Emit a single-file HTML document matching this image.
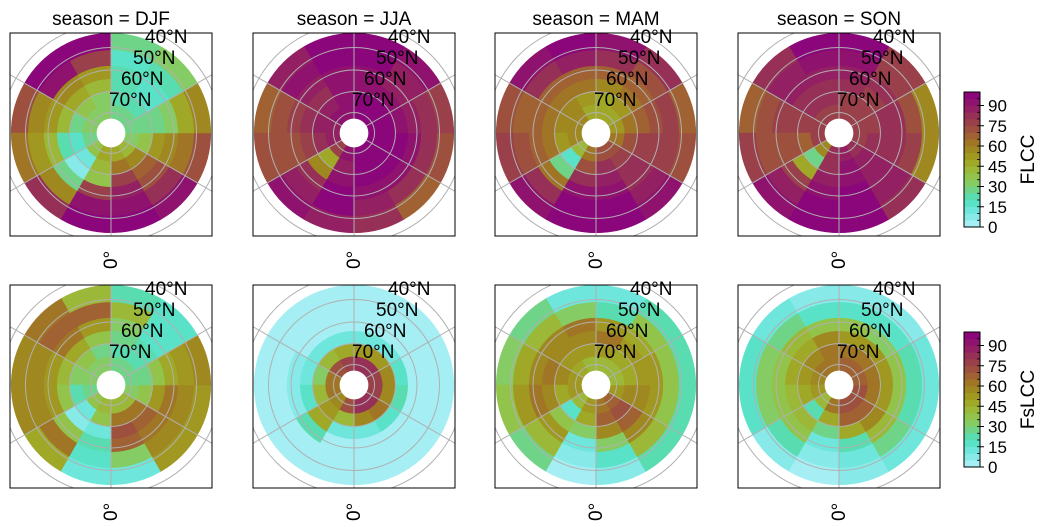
<!DOCTYPE html>
<html><head><meta charset="utf-8"><style>
html,body{margin:0;padding:0;background:#fff;}
svg{display:block;font-family:"Liberation Sans","DejaVu Sans",sans-serif;}
</style></head><body>
<svg id="fig" width="1048" height="527" viewBox="0 0 1048 527" xmlns="http://www.w3.org/2000/svg"></svg>
<script>
// ring latitude edges (inner -> outer) and sector longitudes (start, 30 deg wide)
const ringEdges = [83, 76, 70, 64, 58, 51, 44];
const sectorLons = [0,30,60,90,120,150,180,210,240,270,300,330];
const seasons = ["DJF","JJA","MAM","SON"];
const variables = ["FLCC","FsLCC"];
const cbarTicks = [0,15,30,45,60,75,90];
// values[sector][ring] inner->outer
const FLCC_DJF = [[45,60,75,85,90,95],[40,55,65,70,80,90],[30,35,50,55,60,70],[25,25,25,30,45,55],[25,20,15,15,20,30],[25,20,20,20,15,25],[30,30,40,50,75,95],[30,35,45,55,90,95],[30,25,40,50,55,70],[25,15,20,40,50,60],[35,10,5,25,55,80],[45,40,35,75,90,95]];
const FLCC_JJA = [[95,95,95,90,85,80],[95,95,95,90,80,65],[95,95,95,90,80,70],[95,95,90,85,80,75],[95,95,90,85,85,90],[95,95,90,90,95,95],[90,90,90,90,95,95],[90,85,80,85,90,85],[85,85,80,75,70,65],[85,80,75,70,70,70],[75,45,55,80,85,90],[90,85,90,95,95,85]];
const FLCC_MAM = [[70,80,85,90,95,95],[70,75,80,80,85,90],[60,70,75,75,75,70],[50,60,65,70,75,65],[45,50,60,65,70,80],[45,45,55,65,80,90],[45,50,60,65,85,95],[55,55,60,65,80,90],[55,55,60,65,65,70],[55,50,60,65,70,75],[40,15,25,60,80,90],[60,70,80,90,95,95]];
const FLCC_SON = [[85,90,90,95,95,95],[80,85,85,85,85,80],[75,80,80,80,75,55],[75,75,80,80,70,55],[75,75,75,80,75,75],[75,75,80,85,90,95],[75,80,80,85,90,95],[75,80,80,85,85,80],[75,75,75,75,70,65],[75,65,70,70,70,75],[55,25,45,75,85,90],[80,80,85,90,95,95]];
const FsLCC_DJF = [[40,60,70,65,30,10],[40,60,65,60,55,50],[30,35,50,60,55,50],[25,25,35,45,50,55],[25,20,20,15,15,15],[25,20,25,30,40,20],[30,25,35,50,65,40],[30,35,45,60,65,60],[30,30,40,50,55,55],[25,20,35,50,55,55],[35,10,5,35,60,45],[40,35,10,20,15,10]];
const FsLCC_JJA = [[80,55,10,2,2,2],[80,60,15,2,2,2],[75,55,20,2,2,2],[75,55,15,2,2,2],[80,50,10,2,2,2],[80,50,10,2,2,2],[75,45,10,2,2,2],[70,40,10,2,2,2],[60,30,10,5,2,2],[60,40,15,5,2,2],[55,50,45,20,2,2],[70,40,10,2,2,2]];
const FsLCC_MAM = [[60,65,55,30,15,5],[65,70,65,55,40,20],[50,55,55,50,35,20],[40,45,50,50,35,20],[40,45,50,45,35,20],[40,50,60,50,20,10],[40,50,55,60,30,10],[45,50,55,55,40,25],[50,55,60,55,45,30],[50,45,55,60,50,35],[40,15,35,50,40,25],[50,45,30,10,5,3]];
const FsLCC_SON = [[70,65,45,20,10,5],[70,65,55,40,25,10],[70,60,50,35,20,10],[65,60,50,35,20,10],[65,60,50,30,15,5],[65,60,50,35,15,5],[60,60,55,35,15,5],[60,55,45,40,25,10],[55,50,45,35,30,15],[50,45,40,35,30,15],[40,20,40,35,20,5],[60,45,25,10,5,3]];
const panelData = [[FLCC_DJF,FLCC_JJA,FLCC_MAM,FLCC_SON],[FsLCC_DJF,FsLCC_JJA,FsLCC_MAM,FsLCC_SON]];

const NS="http://www.w3.org/2000/svg";
const svg=document.getElementById('fig');
function mk(tag,attrs,parent){const e=document.createElementNS(NS,tag);for(const k in attrs)e.setAttribute(k,attrs[k]);(parent||svg).appendChild(e);return e;}
const stops=[[0,[180,240,248]],[10,[120,232,228]],[20,[80,224,192]],[25,[96,216,160]],[30,[128,208,112]],[40,[152,192,64]],[45,[160,176,48]],[50,[160,160,32]],[60,[160,128,32]],[70,[160,88,56]],[80,[152,56,80]],[90,[144,24,104]],[100,[136,0,128]]];
function cmap(v){v=Math.max(0,Math.min(99.9,v));v=Math.floor(v/5)*5+2.5;
 for(let i=0;i<stops.length-1;i++){const a=stops[i],b=stops[i+1];if(v<=b[0]){const t=(v-a[0])/(b[0]-a[0]);const c=a[1].map((x,j)=>Math.round(x+(b[1][j]-x)*t));return `rgb(${c})`;}}return 'rgb(136,0,128)';}
const K=235;
function rad(lat){return K*Math.tan((90-lat)/2*Math.PI/180);}
function pt(cx,cy,r,lon){const a=lon*Math.PI/180;return [cx+r*Math.sin(a),cy+r*Math.cos(a)];}
const lefts=[10,253,495,738], tops=[33,285], W=202, H=203;
for(let row=0;row<2;row++)for(let col=0;col<4;col++){
 const x0=lefts[col],y0=tops[row],cx=x0+101,cy=y0+100;
 const g=mk('g',{});
 
 
 const cid='clip'+row+col;
 const cp=mk('clipPath',{id:cid},g);mk('rect',{x:x0,y:y0,width:W,height:H},cp);
 const inner=mk('g',{'clip-path':`url(#${cid})`},g);
 const d=panelData[row][col];
 for(let s=0;s<sectorLons.length;s++)for(let r=0;r<ringEdges.length-1;r++){
  const r1=rad(ringEdges[r]),r2=rad(ringEdges[r+1]),l1=sectorLons[s],l2=l1+30;
  const p1=pt(cx,cy,r1,l1),p2=pt(cx,cy,r2,l1),p3=pt(cx,cy,r2,l2),p4=pt(cx,cy,r1,l2);
  const c=cmap(d[s][r]);
  const cell=mk('path',{d:`M${p1}L${p2}A${r2},${r2} 0 0 0 ${p3}L${p4}A${r1},${r1} 0 0 1 ${p1}Z`,fill:c,stroke:c,'stroke-width':0.6},inner);
  
  
 }
 [80,70,60,50,40].forEach(l=>mk('circle',{cx:cx,cy:cy,r:rad(l),fill:'none',stroke:'#b0b0b0','stroke-width':1},inner));
 [0,60,120].forEach(l=>{const a=pt(cx,cy,rad(20),l),b=pt(cx,cy,rad(20),l+180);mk('line',{x1:a[0],y1:a[1],x2:b[0],y2:b[1],stroke:'#b0b0b0','stroke-width':1},inner);});
 mk('circle',{cx:cx,cy:cy,r:rad(83),fill:'#fff'},inner);
 const fr=mk('rect',{x:x0,y:y0,width:W,height:H,fill:'none',stroke:'#000','stroke-width':1},g);
 
 
 const labs=[['40°N',135,10],['50°N',123,31],['60°N',111,52],['70°N',99,73]];
 labs.forEach(L=>{const t=mk('text',{x:x0+L[1],y:y0+L[2],'font-size':19},g);t.textContent=L[0];
  });
 const z=mk('text',{x:0,y:0,'font-size':19,transform:`translate(${cx+6},${y0+H+33}) rotate(-90)`},g);z.textContent='0°';
 
 if(row===0){const t=mk('text',{x:cx,y:25,'font-size':19,'text-anchor':'middle'},g);t.textContent='season = '+seasons[col];
  }
}
// colorbars
[[92,227,'FLCC'],[332,467,'FsLCC']].forEach(cb=>{
 const g=mk('g',{});
 
 
 const x=964,w=16,top=cb[0],bot=cb[1],h=bot-top;
 const yv=v=>bot-v/100*h;
 for(let v=0;v<100;v+=5)mk('rect',{x:x,y:yv(v+5),width:w,height:h/20+0.3,fill:cmap(v)},g);
 mk('rect',{x:x,y:top,width:w,height:h,fill:'none',stroke:'#000','stroke-width':1},g);
 for(let v=5;v<100;v+=5)mk('line',{x1:x+w-3,x2:x+w,y1:yv(v),y2:yv(v),stroke:'#000','stroke-width':0.8},g);
 cbarTicks.forEach(v=>{mk('line',{x1:x+w,x2:x+w+4,y1:yv(v),y2:yv(v),stroke:'#000','stroke-width':1},g);
  const t=mk('text',{x:x+w+8,y:yv(v)+6,'font-size':17},g);t.textContent=v;});
 const lt=mk('text',{x:0,y:0,'font-size':19,'text-anchor':'middle',transform:`translate(1034,${(top+bot)/2}) rotate(-90)`},g);lt.textContent=cb[2];
 
});
</script>
</body></html>
